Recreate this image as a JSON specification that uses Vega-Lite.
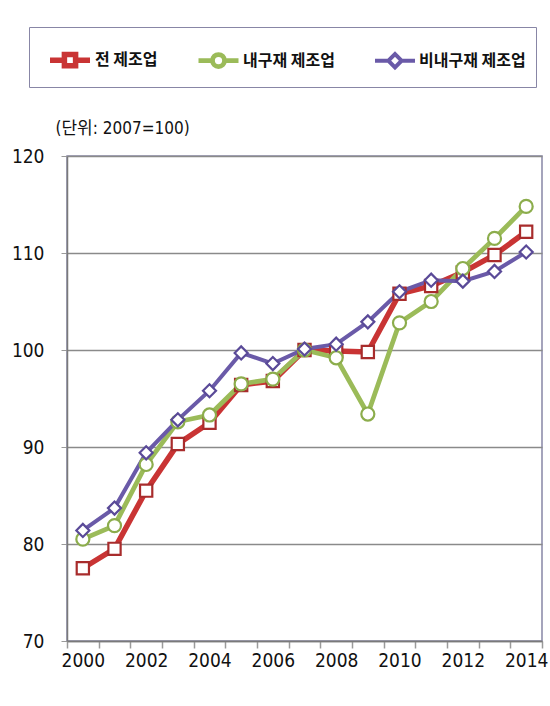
{
  "$schema": "https://vega.github.io/schema/vega-lite/v6.json",
  "width": 475,
  "height": 485,
  "autosize": {"type": "none"},
  "padding": {"left": 67, "top": 156, "right": 8, "bottom": 65},
  "background": "white",
  "config": {
    "view": {"stroke": "#8886a6", "strokeWidth": 1.5},
    "axis": {
      "labelFont": "DejaVu Sans Condensed, Liberation Sans Narrow, sans-serif",
      "labelFontSize": 19,
      "labelColor": "#111111"
    }
  },
  "data": {
    "values": [
      {"year": 2000, "series": "전 제조업", "value": 77.5},
      {"year": 2001, "series": "전 제조업", "value": 79.5},
      {"year": 2002, "series": "전 제조업", "value": 85.5},
      {"year": 2003, "series": "전 제조업", "value": 90.3},
      {"year": 2004, "series": "전 제조업", "value": 92.5},
      {"year": 2005, "series": "전 제조업", "value": 96.4},
      {"year": 2006, "series": "전 제조업", "value": 96.8},
      {"year": 2007, "series": "전 제조업", "value": 100.0},
      {"year": 2008, "series": "전 제조업", "value": 99.9},
      {"year": 2009, "series": "전 제조업", "value": 99.8},
      {"year": 2010, "series": "전 제조업", "value": 105.8},
      {"year": 2011, "series": "전 제조업", "value": 106.6},
      {"year": 2012, "series": "전 제조업", "value": 108.0},
      {"year": 2013, "series": "전 제조업", "value": 109.8},
      {"year": 2014, "series": "전 제조업", "value": 112.2},
      {"year": 2000, "series": "내구재 제조업", "value": 80.5},
      {"year": 2001, "series": "내구재 제조업", "value": 81.9},
      {"year": 2002, "series": "내구재 제조업", "value": 88.2},
      {"year": 2003, "series": "내구재 제조업", "value": 92.6},
      {"year": 2004, "series": "내구재 제조업", "value": 93.3},
      {"year": 2005, "series": "내구재 제조업", "value": 96.5},
      {"year": 2006, "series": "내구재 제조업", "value": 97.0},
      {"year": 2007, "series": "내구재 제조업", "value": 100.0},
      {"year": 2008, "series": "내구재 제조업", "value": 99.2},
      {"year": 2009, "series": "내구재 제조업", "value": 93.4},
      {"year": 2010, "series": "내구재 제조업", "value": 102.8},
      {"year": 2011, "series": "내구재 제조업", "value": 105.0},
      {"year": 2012, "series": "내구재 제조업", "value": 108.4},
      {"year": 2013, "series": "내구재 제조업", "value": 111.5},
      {"year": 2014, "series": "내구재 제조업", "value": 114.8},
      {"year": 2000, "series": "비내구재 제조업", "value": 81.4},
      {"year": 2001, "series": "비내구재 제조업", "value": 83.7},
      {"year": 2002, "series": "비내구재 제조업", "value": 89.4},
      {"year": 2003, "series": "비내구재 제조업", "value": 92.8},
      {"year": 2004, "series": "비내구재 제조업", "value": 95.8},
      {"year": 2005, "series": "비내구재 제조업", "value": 99.7},
      {"year": 2006, "series": "비내구재 제조업", "value": 98.6},
      {"year": 2007, "series": "비내구재 제조업", "value": 100.1},
      {"year": 2008, "series": "비내구재 제조업", "value": 100.6},
      {"year": 2009, "series": "비내구재 제조업", "value": 102.9},
      {"year": 2010, "series": "비내구재 제조업", "value": 106.0},
      {"year": 2011, "series": "비내구재 제조업", "value": 107.2},
      {"year": 2012, "series": "비내구재 제조업", "value": 107.1},
      {"year": 2013, "series": "비내구재 제조업", "value": 108.1},
      {"year": 2014, "series": "비내구재 제조업", "value": 110.1}
    ]
  },
  "encoding": {
    "x": {
      "field": "year",
      "type": "ordinal",
      "scale": {"type": "band", "paddingInner": 0, "paddingOuter": 0},
      "axis": {
        "title": null,
        "labelAngle": 0,
        "labelExpr": "datum.value % 2 == 0 ? datum.label : ''",
        "tickBand": "extent",
        "tickSize": 7,
        "tickColor": "#9a9a9a",
        "tickWidth": 1.5,
        "domainColor": "#7a7a7a",
        "domainWidth": 1.5,
        "labelPadding": 3,
        "labelOverlap": false
      }
    },
    "y": {
      "field": "value",
      "type": "quantitative",
      "scale": {"domain": [70, 120], "nice": false, "zero": false},
      "axis": {
        "title": "(단위: 2007=100)",
        "titleAngle": 0,
        "titleX": -12,
        "titleY": -23,
        "titleAlign": "left",
        "titleBaseline": "alphabetic",
        "titleFont": "DejaVu Sans Condensed, Noto Sans CJK KR, sans-serif",
        "titleFontSize": 17,
        "titleFontWeight": "normal",
        "titleColor": "#111111",
        "values": [70, 80, 90, 100, 110, 120],
        "grid": true,
        "gridColor": "#8a8a8a",
        "gridWidth": 1.5,
        "domainColor": "#7a7a7a",
        "domainWidth": 1.5,
        "tickColor": "#9a9a9a",
        "tickSize": 6,
        "labelPadding": 17
      }
    }
  },
  "layer": [
    {
      "mark": {"type": "line"},
      "encoding": {
        "strokeWidth": {
          "field": "series",
          "type": "nominal",
          "scale": {
            "domain": ["전 제조업", "내구재 제조업", "비내구재 제조업"],
            "range": [5.5, 4, 4]
          },
          "legend": null
        },
        "color": {
          "field": "series",
          "type": "nominal",
          "scale": {
            "domain": ["전 제조업", "내구재 제조업", "비내구재 제조업"],
            "range": ["#c93434", "#9bbb59", "#6a5aa8"]
          },
          "legend": {
            "title": null,
            "orient": "none",
            "legendX": -38,
            "legendY": -129,
            "direction": "horizontal",
            "strokeColor": "#8886a6",
            "padding": 10,
            "symbolSize": 1600,
            "symbolStrokeWidth": 3.5,
            "symbolType": "M-1,0H-0.26M0.26,0H1M-0.26,-0.26H0.26V0.26H-0.26Z",
            "labelFont": "Noto Sans CJK KR",
            "labelFontSize": 16,
            "labelFontWeight": "bold",
            "labelColor": "#111111",
            "labelOffset": 2,
            "columnPadding": 30,
            "labelLimit": 300,
            "symbolOffset": 8,
            "encode": {
              "symbols": {
                "update": {
                  "shape": {"signal": "datum.value === '전 제조업' ? 'M-1,0H-0.28M0.28,0H1M-0.28,-0.28H0.28V0.28H-0.28Z' : datum.value === '내구재 제조업' ? 'M-1,0H-0.3M0.3,0H1M-0.3,0A0.3,0.3 0 1,0 0.3,0A0.3,0.3 0 1,0 -0.3,0Z' : 'M-1,0H-0.33M0.33,0H1M-0.33,0L0,-0.33L0.33,0L0,0.33Z'"},
                  "fill": {"value": "white"},
                  "strokeWidth": {"value": 3.5}
                }
              }
            }
          }
        }
      }
    },
    {
      "transform": [{"filter": "datum.series === '전 제조업'"}],
      "mark": {"type": "point", "shape": "square", "filled": false, "fill": "white", "fillOpacity": 1, "stroke": "#a82c2c", "strokeWidth": 2.2, "size": 150, "opacity": 1}
    },
    {
      "transform": [{"filter": "datum.series === '내구재 제조업'"}],
      "mark": {"type": "point", "shape": "circle", "filled": false, "fill": "white", "fillOpacity": 1, "stroke": "#8cad4c", "strokeWidth": 2.2, "size": 170, "opacity": 1}
    },
    {
      "transform": [{"filter": "datum.series === '비내구재 제조업'"}],
      "mark": {"type": "point", "shape": "diamond", "filled": false, "fill": "white", "fillOpacity": 1, "stroke": "#5a4a98", "strokeWidth": 2.2, "size": 170, "opacity": 1}
    }
  ]
}
